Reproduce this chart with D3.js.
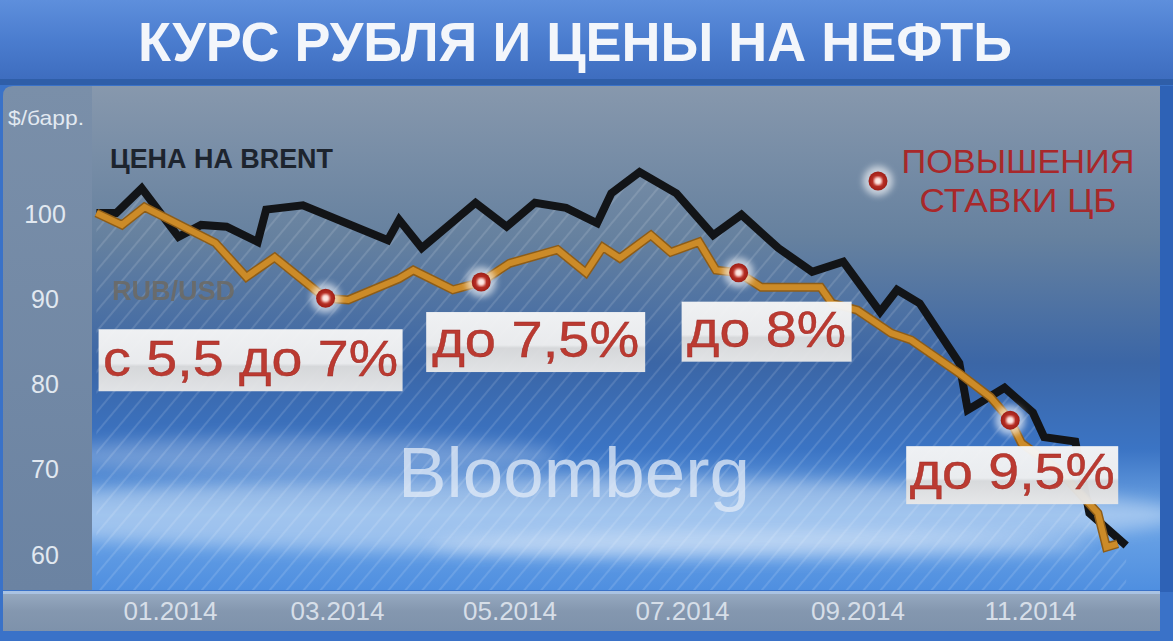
<!DOCTYPE html>
<html lang="ru">
<head>
<meta charset="UTF-8">
<title>Курс рубля и цены на нефть</title>
<script src="https://d3js.org/d3.v7.min.js"></script>
<style>
    body { margin: 0; background: #3b6fc4; }
    svg { display: block; }
    text { font-family: "Liberation Sans", Arial, sans-serif; }
</style>
</head>
<body>
<svg id="chart" width="1173" height="641"></svg>
<script>
    // Brent, индекс (начало = 100)
    const brentDates = ["2013-12-06", "2013-12-13", "2013-12-22", "2014-01-04", "2014-01-12", "2014-01-21",
        "2014-02-01", "2014-02-04", "2014-02-17", "2014-03-19", "2014-03-23", "2014-03-31", "2014-04-19",
        "2014-04-30", "2014-05-10", "2014-05-21", "2014-06-01", "2014-06-06", "2014-06-16", "2014-06-29",
        "2014-07-12", "2014-07-22", "2014-08-04", "2014-08-16", "2014-08-27", "2014-09-09", "2014-09-15",
        "2014-09-23", "2014-10-07", "2014-10-10", "2014-10-23", "2014-11-02", "2014-11-06", "2014-11-17",
        "2014-11-22", "2014-12-05"];
    const brentValues = [100.0, 100.0, 102.9, 97.2, 98.6, 98.4,
        96.6, 100.4, 100.9, 96.8, 99.2, 95.9, 101.2,
        98.4, 101.2, 100.6, 98.8, 102.3, 104.8, 102.3,
        97.4, 99.8, 95.9, 93.1, 94.3, 88.4, 91.0,
        89.4, 82.4, 76.9, 79.5, 76.6, 73.7, 73.2,
        64.8, 61.0];

    // RUB/USD, индекс (начало = 100)
    const rubDates = ["2013-12-06", "2013-12-15", "2013-12-23", "2014-01-17", "2014-01-28", "2014-02-07",
        "2014-02-25", "2014-03-05", "2014-03-23", "2014-03-28", "2014-04-11", "2014-04-21", "2014-05-01",
        "2014-05-18", "2014-05-28", "2014-06-03", "2014-06-09", "2014-06-20", "2014-06-27", "2014-07-07",
        "2014-07-13", "2014-07-21", "2014-07-29", "2014-08-19", "2014-08-23", "2014-09-01", "2014-09-13",
        "2014-09-20", "2014-10-07", "2014-10-18", "2014-10-25", "2014-10-29", "2014-11-11", "2014-11-25",
        "2014-11-28", "2014-12-02"];
    const rubValues = [100.0, 98.6, 100.7, 96.5, 92.5, 94.8,
        90.0, 89.8, 92.3, 93.3, 91.0, 91.9, 94.1,
        95.7, 93.0, 96.0, 94.7, 97.4, 95.4, 96.6,
        93.3, 93.0, 91.3, 91.3, 89.4, 88.6, 85.9,
        85.1, 81.2, 78.4, 75.7, 73.0, 69.9, 64.8,
        60.8, 61.2];

    // повышения ставки ЦБ
    const hikeDates = ["2014-02-25", "2014-04-21", "2014-07-21", "2014-10-25"];
    const hikeValues = [90.0, 91.9, 93.0, 75.7];
    const hikeLabels = ["с 5,5 до 7%", "до 7,5%", "до 8%", "до 9,5%"];

    const xTickDates = ["2014-01-01", "2014-03-01", "2014-05-01", "2014-07-01", "2014-09-01", "2014-11-01"];
    const yTicks = [60, 70, 80, 90, 100];

    const title = "КУРС РУБЛЯ И ЦЕНЫ НА НЕФТЬ";

    const parse = d3.timeParse("%Y-%m-%d");
    const brent = brentDates.map((d, i) => ({ date: parse(d), value: brentValues[i] }));
    const rub = rubDates.map((d, i) => ({ date: parse(d), value: rubValues[i] }));
    const hikes = hikeDates.map((d, i) => ({ date: parse(d), value: hikeValues[i], label: hikeLabels[i] }));

    const W = 1173, H = 641;
    const plot = { left: 92, right: 1160, top: 86, bottom: 590 };

    const x = d3.scaleTime()
        .domain([parse("2014-01-01"), parse("2014-11-01")])
        .range([170, 1030]);
    const y = d3.scaleLinear()
        .domain([60, 100])
        .range([554, 213]);

    const svg = d3.select("#chart");
    const defs = svg.append("defs");

    // gradients
    const grad = (id, stops, x2, y2) => {
        const g = defs.append("linearGradient").attr("id", id)
            .attr("x1", 0).attr("y1", 0).attr("x2", x2).attr("y2", y2);
        stops.forEach(s => g.append("stop").attr("offset", s[0]).attr("stop-color", s[1]));
    };
    grad("titleGrad", [[0, "#5e8fdc"], [0.5, "#4b7dcf"], [1, "#3e6dbf"]], 0, 1);
    grad("plotGrad", [[0, "#8798ad"], [0.3, "#66819f"], [0.55, "#3b66a6"], [0.72, "#3b74c4"],
        [0.85, "#6fa6e6"], [1, "#4f8fe0"]], 0, 1);
    grad("yGrad", [[0, "#7a8fa9"], [1, "#6b83a2"]], 0, 1);
    grad("xGrad", [[0, "#98abc2"], [0.5, "#8497af"], [1, "#7e92ab"]], 0, 1);
    grad("boxGrad", [[0, "#f6f6f6"], [0.55, "#f0f0f0"], [0.6, "#dcdcdc"], [1, "#e8e8e8"]], 0, 1);

    const rg = defs.append("radialGradient").attr("id", "dotGrad");
    rg.append("stop").attr("offset", 0).attr("stop-color", "#d8463a");
    rg.append("stop").attr("offset", 1).attr("stop-color", "#9e1e16");

    defs.append("filter").attr("id", "blur8").attr("x", "-50%").attr("y", "-50%")
        .attr("width", "200%").attr("height", "200%")
        .append("feGaussianBlur").attr("stdDeviation", 8);
    defs.append("filter").attr("id", "blur3").attr("x", "-50%").attr("y", "-50%")
        .attr("width", "200%").attr("height", "200%")
        .append("feGaussianBlur").attr("stdDeviation", 3);
    defs.append("filter").attr("id", "blur1")
        .append("feGaussianBlur").attr("stdDeviation", 0.8);

    const pat = defs.append("pattern").attr("id", "stripes")
        .attr("patternUnits", "userSpaceOnUse")
        .attr("width", 13).attr("height", 13)
        .attr("patternTransform", "rotate(40)");
    pat.append("line").attr("x1", 0).attr("y1", 0).attr("x2", 0).attr("y2", 13)
        .attr("stroke", "#ffffff").attr("stroke-width", 4).attr("stroke-opacity", 0.12);

    defs.append("clipPath").attr("id", "plotClip")
        .append("rect").attr("x", plot.left).attr("y", plot.top)
        .attr("width", plot.right - plot.left).attr("height", plot.bottom - plot.top);

    // frame
    svg.append("rect").attr("width", W).attr("height", H).attr("fill", "#3a72c8");
    svg.append("rect").attr("x", 0).attr("y", 0).attr("width", W).attr("height", 79)
        .attr("fill", "url(#titleGrad)");
    svg.append("rect").attr("x", 0).attr("y", 79).attr("width", W).attr("height", 6)
        .attr("fill", "#2f5ea8");

    // plot background
    const bg = svg.append("g").attr("clip-path", "url(#plotClip)");
    bg.append("rect").attr("x", plot.left).attr("y", plot.top)
        .attr("width", plot.right - plot.left).attr("height", plot.bottom - plot.top)
        .attr("fill", "url(#plotGrad)");
    bg.append("ellipse").attr("cx", 560).attr("cy", 515).attr("rx", 620).attr("ry", 38)
        .attr("fill", "#ffffff").attr("opacity", 0.35).attr("filter", "url(#blur8)");
    bg.append("ellipse").attr("cx", 300).attr("cy", 455).attr("rx", 260).attr("ry", 18)
        .attr("fill", "#ffffff").attr("opacity", 0.25).attr("filter", "url(#blur8)");
    bg.append("ellipse").attr("cx", 760).attr("cy", 545).attr("rx", 330).attr("ry", 14)
        .attr("fill", "#ffffff").attr("opacity", 0.35).attr("filter", "url(#blur8)");

    // hatch under Brent
    const area = d3.area()
        .x(d => x(d.date))
        .y0(plot.bottom)
        .y1(d => y(d.value));
    bg.append("path").datum(brent)
        .attr("d", area)
        .attr("fill", "url(#stripes)");

    // watermark
    bg.append("text")
        .attr("x", 398).attr("y", 497)
        .attr("font-size", 70)
        .attr("textLength", 352).attr("lengthAdjust", "spacingAndGlyphs")
        .attr("fill", "#e3ecf8").attr("opacity", 0.75)
        .text("Bloomberg");

    // y panel
    svg.append("path")
        .attr("d", "M3,96 Q3,86 13,86 L92,86 L92,590 L3,590 Z")
        .attr("fill", "url(#yGrad)");
    svg.append("rect").attr("x", plot.right).attr("y", 86).attr("width", W - plot.right).attr("height", 506)
        .attr("fill", "#2e62b6");

    // x bar
    svg.append("rect").attr("x", 3).attr("y", 591).attr("width", 1157).attr("height", 40)
        .attr("fill", "url(#xGrad)");
    svg.append("rect").attr("x", 3).attr("y", 591).attr("width", 1157).attr("height", 3)
        .attr("fill", "#a9c2e2");

    // title
    svg.append("text")
        .attr("x", 138).attr("y", 61)
        .attr("font-size", 56).attr("font-weight", "bold")
        .attr("textLength", 874).attr("lengthAdjust", "spacingAndGlyphs")
        .attr("fill", "#f3f6fb")
        .text(title);

    // axes
    const yAxis = svg.append("g")
        .attr("transform", "translate(45,0)")
        .call(d3.axisLeft(y).tickValues(yTicks).tickSize(0));
    yAxis.select(".domain").remove();
    yAxis.selectAll("text")
        .attr("x", 0).attr("dy", "0.36em")
        .attr("text-anchor", "middle")
        .attr("font-size", 25)
        .attr("fill", "#e1e8f0");

    svg.append("text")
        .attr("x", 46).attr("y", 125)
        .attr("text-anchor", "middle")
        .attr("font-size", 21)
        .attr("textLength", 76).attr("lengthAdjust", "spacingAndGlyphs")
        .attr("fill", "#e2e9f1")
        .text("$/барр.");

    const xAxis = svg.append("g")
        .attr("transform", "translate(0,611)")
        .call(d3.axisBottom(x).tickValues(xTickDates.map(parse))
            .tickFormat(d3.timeFormat("%m.%Y")).tickSize(0));
    xAxis.select(".domain").remove();
    xAxis.selectAll("text")
        .attr("y", 0).attr("dy", "0.36em")
        .attr("font-size", 26)
        .attr("fill", "#d6dee8");

    // series labels
    svg.append("text")
        .attr("x", 110).attr("y", 168)
        .attr("font-size", 27).attr("font-weight", "bold")
        .attr("textLength", 223).attr("lengthAdjust", "spacingAndGlyphs")
        .attr("fill", "#1d242e")
        .text("ЦЕНА НА BRENT");
    svg.append("text")
        .attr("x", 112).attr("y", 300)
        .attr("font-size", 27).attr("font-weight", "bold")
        .attr("textLength", 123).attr("lengthAdjust", "spacingAndGlyphs")
        .attr("fill", "#6d6a63").attr("opacity", 0.85)
        .text("RUB/USD");

    // lines
    const line = d3.line()
        .x(d => x(d.date))
        .y(d => y(d.value));
    const lines = svg.append("g").attr("clip-path", "url(#plotClip)");
    lines.append("path").datum(brent)
        .attr("d", line)
        .attr("fill", "none")
        .attr("stroke", "#121417")
        .attr("stroke-width", 8)
        .attr("stroke-linejoin", "miter");
    lines.append("path").datum(rub)
        .attr("d", line)
        .attr("fill", "none")
        .attr("stroke", "#8e5d18")
        .attr("stroke-width", 9);
    lines.append("path").datum(rub)
        .attr("d", line)
        .attr("fill", "none")
        .attr("stroke", "#cc8b28")
        .attr("stroke-width", 6);

    // markers
    function marker(g, cx, cy) {
        g.append("circle").attr("cx", cx).attr("cy", cy).attr("r", 15)
            .attr("fill", "#ffffff").attr("opacity", 0.6).attr("filter", "url(#blur3)");
        g.append("circle").attr("cx", cx).attr("cy", cy).attr("r", 9.5)
            .attr("fill", "url(#dotGrad)");
        g.append("circle").attr("cx", cx).attr("cy", cy).attr("r", 4)
            .attr("fill", "#fbe7e3").attr("filter", "url(#blur1)");
    }
    const mk = svg.append("g");
    hikes.forEach(d => marker(mk, x(d.date), y(d.value)));

    // label boxes (offset from marker, width, text width)
    const boxLayout = [
        { dx: -227, dy: 31, w: 304, h: 62, tw: 295 },
        { dx: -55, dy: 30, w: 219, h: 60, tw: 207 },
        { dx: -57, dy: 29, w: 170, h: 60, tw: 159 },
        { dx: -104, dy: 26, w: 212, h: 58, tw: 205 }
    ];
    const boxes = svg.append("g");
    hikes.forEach((d, i) => {
        const b = boxLayout[i];
        const bx = x(d.date) + b.dx, by = y(d.value) + b.dy;
        boxes.append("rect")
            .attr("x", bx).attr("y", by)
            .attr("width", b.w).attr("height", b.h)
            .attr("fill", "url(#boxGrad)").attr("opacity", 0.96);
        boxes.append("text")
            .attr("x", bx + (b.w - b.tw) / 2).attr("y", by + b.h - 15)
            .attr("font-size", 50)
            .attr("textLength", b.tw).attr("lengthAdjust", "spacingAndGlyphs")
            .attr("fill", "#bb3a31")
            .attr("stroke", "#9a2520").attr("stroke-width", 0.4)
            .text(d.label);
    });

    // legend
    marker(svg, 878, 181);
    svg.append("text")
        .attr("x", 1018).attr("y", 173)
        .attr("text-anchor", "middle")
        .attr("font-size", 34)
        .attr("textLength", 233).attr("lengthAdjust", "spacingAndGlyphs")
        .attr("fill", "#a8282a")
        .text("ПОВЫШЕНИЯ");
    svg.append("text")
        .attr("x", 1018).attr("y", 212)
        .attr("text-anchor", "middle")
        .attr("font-size", 34)
        .attr("textLength", 197).attr("lengthAdjust", "spacingAndGlyphs")
        .attr("fill", "#a8282a")
        .text("СТАВКИ ЦБ");
</script>
</body>
</html>
